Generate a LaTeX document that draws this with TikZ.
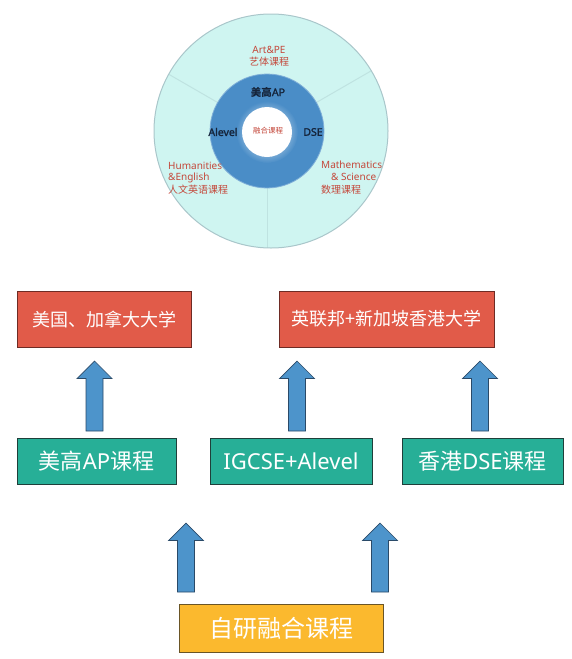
\documentclass[tikz,border=0pt]{standalone}
\usepackage{fontspec}
\setmainfont{Noto Sans}[AutoFakeBold=1.5]
\newfontfamily\cjk{Noto Sans CJK SC}
\definecolor{redbox}{HTML}{E15B49}
\definecolor{redline}{HTML}{6E2B24}
\definecolor{greenbox}{HTML}{27AF97}
\definecolor{greenline}{HTML}{1F3F3A}
\definecolor{yellowbox}{HTML}{FBB92E}
\definecolor{yellowline}{HTML}{6A5526}
\definecolor{arrowblue}{HTML}{4D94CB}
\definecolor{arrowline}{HTML}{2A4A68}
\definecolor{ringblue}{HTML}{4A8DC7}
\definecolor{outerfill}{HTML}{CFF5F1}
\definecolor{outerline}{HTML}{A9C6CA}
\definecolor{divline}{HTML}{BFE3E1}
\definecolor{labred}{HTML}{C4473A}
\definecolor{labnavy}{HTML}{15243A}
\tikzset{
  box/.style={draw, line width=0.8pt, text=white, inner sep=0pt},
  redstyle/.style={box, fill=redbox, draw=redline, minimum height=56pt, font=\cjk\fontsize{18}{20}\selectfont},
  greenstyle/.style={box, fill=greenbox, draw=greenline, minimum height=46pt, font=\fontsize{22}{24}\selectfont},
  yellowstyle/.style={box, fill=yellowbox, draw=yellowline, minimum height=48pt, minimum width=204pt, font=\cjk\fontsize{24}{26}\selectfont},
  arrowstyle/.style={fill=arrowblue, draw=arrowline, line width=0.7pt, line join=miter},
  uparr/.pic={\path[arrowstyle] (-8.5,#1) -- (-8.5,17.5) -- (-17.5,17.5) -- (0,0) -- (17.5,17.5) -- (8.5,17.5) -- (8.5,#1) -- cycle;},
  redlab/.style={text=labred, font=\fontsize{10}{12}\selectfont, inner sep=0pt},
  navylab/.style={text=labnavy, font=\bfseries\fontsize{10.5}{12}\selectfont, inner sep=0pt},
  divider/.style={draw=divline, line width=1pt}
}
\begin{document}
\begin{tikzpicture}[x=1pt, y=-1pt]
\useasboundingbox (0,0) rectangle (572,659);
% circle diagram
\coordinate (oc) at (271,131);
\coordinate (rc) at (267,131);
\fill[outerfill] (oc) circle (117);
\begin{scope}
  \clip (oc) circle (117);
  \foreach \a in {210,330,90} {
    \draw[divider] (rc) ++(\a:57) -- ++(\a:80);
  }
\end{scope}
\draw[outerline, line width=1pt] (oc) circle (117);
\fill[ringblue] (rc) circle (57);
\draw[ringblue!70!white, line width=0.8pt] (rc) circle (57);
\shade[inner color=white, outer color=ringblue] (267,132) circle (31);
\fill[white] (267,132) circle (25);
\node[redlab] (art) at (269,50) {Art\&PE};
\node[redlab, font=\cjk\fontsize{10}{12}\selectfont] (artc) at (269,62) {艺体课程};
\node[navylab] (ap) at (268,92) {{\cjk\bfseries 美高}AP};
\node[navylab] (alevel) at (223,132) {Alevel};
\node[navylab] (dse) at (313,132) {DSE};
\node[redlab, font=\cjk\fontsize{7.5}{9}\selectfont] (fuse) at (268,131) {融合课程};
\node[redlab, anchor=west] (hum1) at (168,166) {Humanities};
\node[redlab, anchor=west] (hum2) at (168,178) {\&English};
\node[redlab, anchor=west, font=\cjk\fontsize{10}{12}\selectfont] (hum3) at (168,190) {人文英语课程};
\node[redlab, anchor=west] (mat1) at (321,165) {Mathematics};
\node[redlab, anchor=west] (mat2) at (331,177) {\& Science};
\node[redlab, anchor=west, font=\cjk\fontsize{10}{12}\selectfont] (mat3) at (321,190) {数理课程};
% boxes
\node[redstyle, minimum width=174pt] (us) at (104,319) {美国、加拿大大学};
\node[redstyle, minimum width=215pt] (uk) at (386.5,319) {英联邦+新加坡香港大学};
\node[greenstyle, minimum width=159pt] (apc) at (96.5,461) {{\cjk 美高}AP{\cjk 课程}};
\node[greenstyle, minimum width=162pt] (igc) at (291,461) {IGCSE+Alevel};
\node[greenstyle, minimum width=161pt] (dsec) at (482.5,461) {{\cjk 香港}DSE{\cjk 课程}};
\node[yellowstyle] (own) at (281,628) {自研融合课程};
% arrows
\pic at (94.5,361) {uparr=70};
\pic at (297,361) {uparr=70};
\pic at (480,361) {uparr=70};
\pic at (186,523) {uparr=69};
\pic at (380,523) {uparr=69};
\end{tikzpicture}
\end{document}
